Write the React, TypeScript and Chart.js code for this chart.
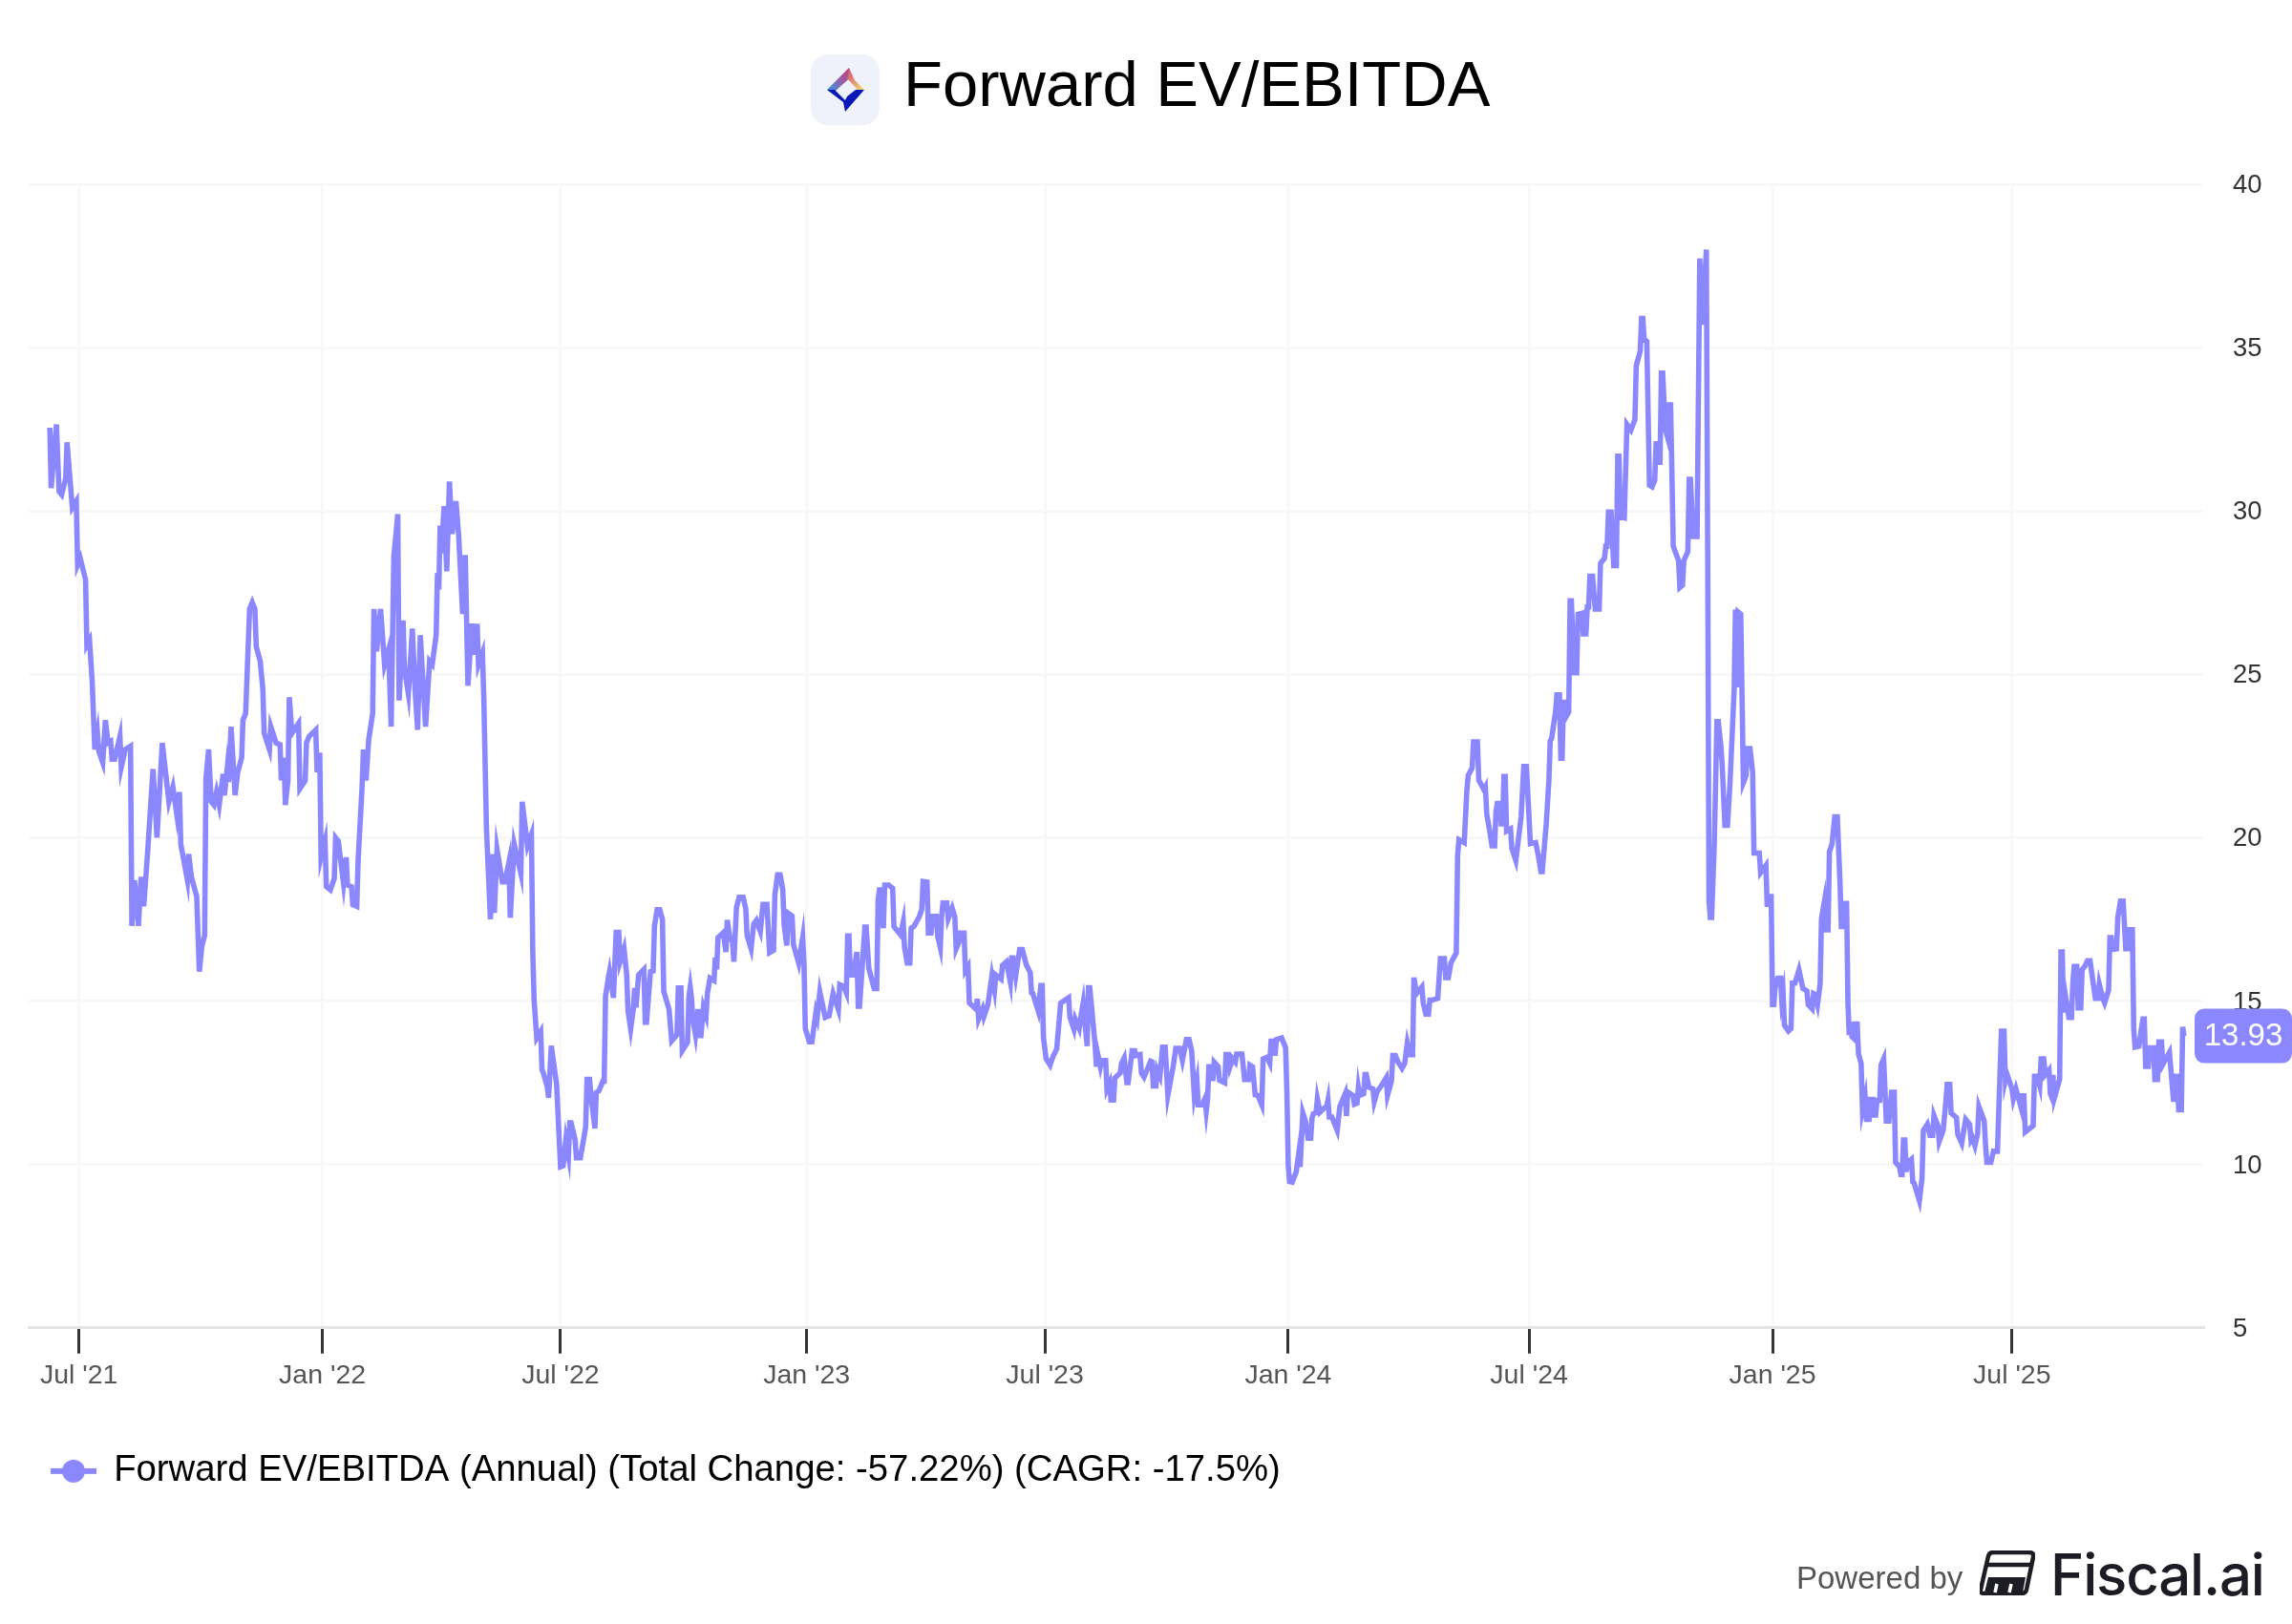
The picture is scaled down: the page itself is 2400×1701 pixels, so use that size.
import React, { useEffect, useRef } from "react";
import { Chart, registerables } from "chart.js";

Chart.register(...registerables);

const titleText = "Forward EV/EBITDA";
const seriesLabel = "Forward EV/EBITDA (Annual) (Total Change: -57.22%) (CAGR: -17.5%)";
const lastValueLabel = "13.93";
const yTicks = [5, 10, 15, 20, 25, 30, 35, 40];
// x positions are days after 1 Jul 2021
const tickDays = [0, 184, 364, 550, 730, 914, 1096, 1280, 1461];
const tickLabels = ["Jul '21", "Jan '22", "Jul '22", "Jan '23", "Jul '23", "Jan '24", "Jul '24", "Jan '25", "Jul '25"];

const obs2021: number[][] = [
  [-22,32.55],[-21,30.7],[-17,32.65],[-15,30.6],[-13,30.5],[-10,31.0],[-9,32.1],[-5,30.1],[-2,30.3],[-1,28.35],
  [1,28.55],[5,27.9],[6,25.9],[8,26.05],[10,24.8],[12,22.7],[14,23.2],[15,22.65],[18,22.3],[20,23.6],
  [22,22.9],[24,22.95],[25,22.4],[27,22.4],[31,23.1],[32,22.15],[35,22.7],[39,22.8],[40,17.3],[42,18.7],
  [45,17.3],[47,18.8],[49,17.9],[52,19.6],[56,22.1],[59,20],[63,22.9],[68,21.1],[71,21.55],[74,20.7],
  [76,21.4],[77,19.8],[82,18.7],[83,19.5],[85,18.8],[89,18.2],[91,15.9],[93,16.7],[95,17.0],[96,21.8],
  [98,22.7],[100,21.1],[102,21],[104,21.4],[106,21],[109,21.95],[110,21.3],[112,22.1],[113,21.7],[115,23.4],
  [118,21.3],[120,22],[123,22.45],[124,23.6],[126,23.8],[129,27],[131,27.2],[133,27],[134,25.85],[137,25.4],
  [139,24.55],[140,23.2],[144,22.7],[145,23.4],[149,22.9],[152,22.85],[153,21.75],[155,22.45],[156,21],[158,21.75],
  [159,24.3],[161,23.2],[166,23.5],[167,21.5],[171,21.75],[172,22.9],[174,23.1],[179,23.3],[180,22],[182,22.6],
];
const obs2022a: number[][] = [
  [183,19.4],[186,19.9],[187,18.5],[190,18.4],[193,18.75],[194,20],[196,19.9],[200,18.6],[202,19.4],[203,18.55],
  [206,18.5],[207,17.95],[210,17.9],[211,19.3],[214,21.55],[215,22.7],[217,21.75],[219,23],[222,23.8],[223,27],
  [225,25.7],[228,27],[231,25.3],[234,25.75],[236,23.4],[238,28.6],[241,29.9],[242,24.2],[245,26.65],[246,25.2],
  [249,24.4],[252,26.4],[254,24.55],[256,23.3],[258,26.2],[262,23.4],[265,25.4],[267,25.3],[270,26.2],[271,28.1],
  [272,27.6],[273,29.55],[274,28.7],[276,30.15],[278,28.15],[280,30.9],[282,29.3],[285,30.3],[287,29.25],[290,26.85],
  [292,28.65],[294,24.65],[297,26.55],[299,25.6],[301,26.55],[302,25.3],[305,25.65],[306,24.3],[308,20.3],[311,17.5],
  [313,19.5],[314,17.7],[316,19.65],[320,18.65],[322,18.65],[325,19.25],[326,17.55],[329,19.8],[334,18.9],[335,21.1],
  [339,19.75],[342,20.1],[343,16.5],[344,15.05],[346,13.87],[349,14.07],[350,12.9],[351,12.8],[354,12.36],[355,12.04],
  [357,13.63],[361,12.46],[364,9.93],[366,9.96],[368,10.75],[370,10.27],[371,11.27],[372,11.27],[375,10.75],[376,10.2],
];
const obs2022b: number[][] = [
  [379,10.2],[382,10.9],[383,11.15],[384,12.6],[386,12.6],[387,12.1],[390,11.1],[391,12.2],[393,12.25],[396,12.55],
  [397,12.55],[398,15.14],[400,15.68],[401,15.9],[404,15.1],[405,16.1],[406,17.1],[408,17.1],[409,16.2],[412,16.6],
  [414,15.8],[415,14.7],[417,14.15],[419,14.75],[420,15.4],[421,14.8],[423,15.8],[427,15.97],[428,14.35],[429,14.35],
  [431,15.4],[432,15.9],[434,15.92],[435,17.3],[437,17.8],[439,17.8],[441,17.5],[442,15.3],[446,14.75],[448,13.78],
  [452,13.97],[453,15.4],[455,15.4],[456,13.48],[460,13.73],[461,15.14],[462,15.43],[463,15.1],[464,14.45],[466,13.97],
  [468,14.75],[470,13.87],[472,14.8],[474,14.55],[475,15.24],[477,15.7],[480,15.63],[481,16.33],[482,15.97],[483,16.94],
  [487,17.09],[489,16.5],[490,17.48],[492,16.94],[494,16.8],[495,16.2],[497,17.87],[499,18.18],[502,18.18],[504,17.82],
  [505,17],[508,16.6],[510,17.36],[512,17.47],[515,17.13],[517,17.96],[520,17.96],[522,16.48],[525,16.55],[526,18.25],
  [528,18.86],[530,18.86],[532,18.4],[533,17.33],[535,16.7],[536,17.69],[539,17.6],[540,16.74],[544,16.16],[547,16.94],
  [548,16.16],
];
const obs2023: number[][] = [
  [549,14.16],[552,13.75],[554,13.75],[557,14.65],[558,14.5],[560,15.28],[562,14.89],[564,14.5],[567,14.55],[570,15.23],
  [574,14.74],[575,15.5],[578,15.45],[580,15.25],[581,16.99],[582,16.99],[583,15.8],[585,15.8],[588,16.5],[589,14.84],
  [590,14.84],[594,17.26],[595,17.26],[597,16],[601,15.38],[603,15.38],[604,18.1],[605,18.4],[606,18.4],[608,17.23],
  [609,18.55],[612,18.55],[615,18.45],[616,17.28],[621,17.03],[623,17.42],[624,16.64],[626,16.16],[628,16.16],[629,17.23],
  [631,17.28],[635,17.57],[637,17.8],[638,18.66],[641,18.64],[642,17.08],[644,17.08],[645,17.59],[648,17.59],[649,16.99],
  [651,16.64],[652,17.57],[653,18],[656,18],[657,17.52],[660,17.84],[662,17.57],[663,16.6],[665,16.8],[666,17.08],
  [669,17.08],[670,15.93],[672,16.06],[673,14.94],[678,14.75],[679,15.07],[680,14.45],[683,14.75],[684,14.53],[687,14.89],
  [690,15.77],[692,15.33],[693,15.8],[697,15.67],[698,16.09],[701,16.2],[704,15.57],[705,16.32],[706,16.32],[708,15.77],
  [711,16.58],[713,16.58],[716,16.11],[719,15.87],[720,15.25],[721,15.23],[725,14.7],[727,15.47],[728,15.47],[729,13.87],
  [731,13.23],[734,13.04],[736,13.28],[739,13.53],[742,14.94],[748,15.1],[749,14.5],[752,14.14],[753,14.45],[756,14.16],
  [757,14.45],[759,14.94],[762,13.62],[763,15.41],[764,15.41],[768,13.67],[769,12.99],[770,13.38],[772,12.99],[773,13.18],
  [776,13.18],[777,12.31],[779,12.5],[780,11.97],[782,11.97],[783,12.65],[787,12.8],[788,13.09],[790,13.26],[792,12.5],
  [793,12.5],[796,13.48],[798,13.48],[799,13.33],[802,13.36],[803,12.8],[805,12.67],[810,13.16],[811,13.14],[812,12.4],
  [814,12.4],[815,12.89],[817,12.7],[819,13.59],[821,13.59],[823,12.11],[827,12.99],[829,13.55],[832,13.55],[834,13.18],
  [837,13.82],[839,13.82],[841,13.48],[842,12.8],[843,12.11],[845,12.55],[846,11.82],[849,11.82],[851,12.01],[852,11.62],
  [853,11.97],[854,12.99],[856,12.99],[857,12.55],[858,13.13],[861,12.99],[862,12.58],[866,12.5],[867,13.36],[869,13.36],
  [870,12.99],[872,13.23],[874,13.13],[875,13.38],[879,13.38],[881,12.6],[884,12.6],[885,13.04],[887,12.99],[889,12.13],
  [891,12.11],[894,11.82],[895,13.23],[898,13.28],[900,13.1],[901,13.77],[903,13.77],[904,13.33],[905,13.82],[909,13.87],
  [912,13.57],[913,12.2],
];
const obs2024a: number[][] = [
  [914,9.97],[915,9.48],[917,9.46],[920,9.77],[922,10.36],[923,9.92],[925,11.58],[927,11.33],[929,10.8],[931,10.8],
  [932,11.43],[933,11.55],[935,11.58],[936,12.01],[938,11.6],[941,11.72],[943,11.77],[944,11.97],[945,11.45],[947,11.45],
  [951,11.04],[953,11.77],[957,12.16],[958,11.48],[959,12.21],[963,12.11],[964,11.84],[966,11.87],[967,12.36],[968,12.11],
  [971,12.16],[972,12.75],[973,12.75],[975,12.36],[978,12.31],[979,11.92],[981,12.21],[985,12.45],[988,12.65],[989,12.11],
  [992,12.55],[993,13.33],[995,13.33],[997,13.13],[1000,12.94],[1002,13.09],[1004,13.72],[1006,13.36],[1008,13.36],[1009,15.72],
  [1011,15.23],[1015,15.43],[1016,14.94],[1018,14.6],[1020,14.6],[1021,15.03],[1023,15.03],[1027,15.08],[1029,16.3],[1032,16.3],
  [1033,15.72],[1035,15.72],[1037,16.17],[1041,16.47],[1042,19.45],[1043,19.94],[1047,19.85],[1049,21.46],[1050,21.9],[1053,22.14],
  [1054,22.93],[1057,22.93],[1058,21.76],[1059,21.69],[1062,21.46],[1063,21.54],[1064,20.72],[1066,20.27],[1068,19.75],[1070,19.75],
  [1071,20.8],[1072,21.05],[1074,21.05],[1075,20.42],[1076,20.42],[1077,21.87],[1078,21.87],[1079,20.2],[1082,20.27],[1083,19.67],
  [1086,19.3],[1090,20.64],[1092,22.18],[1094,22.18],[1097,19.82],[1101,19.85],[1103,19.45],[1105,18.96],[1106,18.96],[1109,20.42],
  [1111,21.76],[1112,22.96],[1113,23.03],[1116,23.85],[1117,24.37],[1119,24.37],[1120,22.43],[1121,22.43],[1122,24.22],[1123,23.63],
  [1126,23.85],[1127,27.25],[1128,27.25],[1130,25.05],[1132,25.05],[1133,26.84],[1136,26.87],[1137,26.24],[1139,26.24],[1140,27.06],
];
const obs2024b: number[][] = [
  [1141,27.06],[1142,28],[1144,28],[1146,27],[1149,27],[1150,28.4],[1153,28.55],[1154,28.92],[1155,28.92],[1156,29.97],
  [1158,29.97],[1160,28.33],[1162,28.33],[1163,31.68],[1164,31.68],[1165,29.82],[1168,29.79],[1170,32.65],[1173,32.48],[1176,32.8],
  [1177,34.44],[1180,34.89],[1181,35.89],[1182,35.89],[1183,35.26],[1185,35.19],[1187,30.79],[1189,30.74],[1191,30.94],[1192,32.06],
  [1193,32.06],[1194,31.49],[1195,31.49],[1196,34.22],[1197,34.22],[1199,32.5],[1201,32.21],[1202,33.25],[1203,33.25],[1205,28.92],
  [1209,28.48],[1210,27.66],[1212,27.73],[1213,28.48],[1216,28.75],[1217,30.97],[1218,30.97],[1220,29.22],[1223,29.22],[1225,37.73],
  [1227,35.7],[1230,38],[1231,28.8],[1232,18.03],[1233,17.56],[1234,17.56],[1236,19.82],[1238,23.55],[1239,23.55],[1241,22.8],
  [1242,22.2],[1244,20.38],[1246,20.38],[1248,21.76],[1251,24.52],[1252,26.98],[1253,24.6],[1254,26.91],[1256,26.84],[1258,21.69],
  [1260,21.9],[1261,22.73],[1263,22.73],[1265,22],[1266,19.53],[1270,19.53],[1271,18.93],[1275,19.15],[1276,17.88],[1277,18.2],
  [1279,18.2],
];
const obs2025: number[][] = [
  [1280,14.89],[1281,14.89],[1282,15.42],[1284,15.7],[1286,15.7],[1287,15.03],[1288,15.25],[1289,14.26],[1292,14.08],[1294,14.16],
  [1295,15.55],[1297,15.55],[1300,15.95],[1303,15.38],[1306,15.31],[1307,14.89],[1310,14.76],[1311,15.23],[1312,15.21],[1314,14.89],
  [1316,15.52],[1317,17.52],[1319,18],[1320,17.18],[1322,17.18],[1323,19.57],[1325,19.81],[1327,20.64],[1329,20.64],[1331,18.64],
  [1332,17.28],[1334,17.28],[1335,17.99],[1336,17.99],[1337,14.94],[1338,13.96],[1339,14.35],[1340,13.91],[1341,13.87],[1342,14.3],
  [1344,14.3],[1345,13.38],[1347,13.09],[1348,11.67],[1350,12.06],[1351,11.38],[1353,11.38],[1354,11.99],[1356,11.99],[1357,11.51],
  [1358,11.51],[1359,11.96],[1361,11.96],[1362,13.04],[1364,13.23],[1366,11.33],[1368,11.33],[1370,12.21],[1372,12.21],[1373,10.06],
  [1376,9.92],[1377,9.69],[1378,9.69],[1379,10.75],[1380,10.75],[1381,9.77],[1382,10.06],[1385,10.16],[1386,9.46],[1387,9.43],
  [1391,8.89],[1393,9.58],[1394,11.04],[1397,11.23],[1399,10.89],[1401,10.89],[1402,11.5],[1405,11.18],[1406,10.7],[1409,11.04],
  [1411,11.92],[1412,12.45],[1414,12.45],[1415,11.57],[1419,11.43],[1420,10.92],[1423,10.65],[1426,11.38],[1429,11.23],[1430,10.75],
  [1431,10.82],[1433,10.57],[1435,10.94],[1436,11.77],[1440,11.33],[1441,10.6],[1442,10.06],[1445,10.06],[1447,10.4],[1450,10.4],
  [1453,14.08],[1455,14.08],[1456,12.6],[1457,12.79],[1459,12.55],[1461,12.31],[1462,12.01],[1464,12.31],[1468,11.72],[1469,12.1],
  [1470,12.1],[1471,10.99],[1477,11.18],[1478,12.7],[1480,12.7],[1482,12.4],[1483,13.23],[1485,13.23],[1486,12.74],[1489,12.89],
  [1490,12.16],[1491,12.06],[1492,12.74],[1493,12.03],[1497,12.6],[1498,16.5],[1499,16.5],[1500,14.65],[1501,15.28],[1504,14.5],
  [1506,14.5],[1507,15.57],[1508,16.06],[1510,16.06],[1511,14.79],[1513,14.79],[1514,15.96],[1516,16.06],[1518,16.23],[1520,16.23],
  [1524,15.08],[1526,15.08],[1527,15.52],[1530,15.04],[1531,14.94],[1534,15.33],[1535,16.94],[1536,16.94],[1537,16.58],[1540,16.6],
  [1541,17.57],[1543,18.06],[1545,18.06],[1547,16.6],[1549,16.6],[1550,17.18],[1552,17.18],[1553,14.16],[1554,13.59],[1557,13.62],
  [1559,14.21],[1560,14.45],[1561,14.45],[1562,13],[1564,13],[1565,13.57],[1568,13.57],[1569,12.6],[1571,12.6],[1572,13.75],
  [1574,13.75],[1575,13.06],[1580,13.43],[1583,11.99],[1584,11.99],[1585,12.7],[1586,12.7],[1587,11.67],[1589,11.67],[1590,14.21],
  [1591,13.93],
];

const observations = [...obs2021, ...obs2022a, ...obs2022b, ...obs2023, ...obs2024a, ...obs2024b, ...obs2025];
const days = observations.map((o) => o[0]);
const values = observations.map((o) => o[1]);

const LINE = "#8b88ff";
const SANS = '"Liberation Sans", Arial, sans-serif';

const lastValueBadge = {
  id: "lastValueBadge",
  afterDraw(chart: any) {
    const { ctx, scales } = chart;
    const cy = scales.y.getPixelForValue(values[values.length - 1]);
    ctx.save();
    ctx.fillStyle = LINE;
    ctx.beginPath();
    ctx.roundRect(2298, cy - 28.5, 102, 57, 10);
    ctx.fill();
    ctx.fillStyle = "#ffffff";
    ctx.font = `33px ${SANS}`;
    ctx.textAlign = "center";
    ctx.textBaseline = "middle";
    ctx.fillText(lastValueLabel, 2349, cy + 1);
    ctx.restore();
  },
};

function legendMarker() {
  const c = document.createElement("canvas");
  c.width = 48;
  c.height = 26;
  const g = c.getContext("2d")!;
  g.fillStyle = LINE;
  g.fillRect(0, 10, 48, 6);
  g.beginPath();
  g.arc(24, 13, 12, 0, Math.PI * 2);
  g.fill();
  return c;
}

export default function App() {
  const ref = useRef<HTMLCanvasElement>(null);
  useEffect(() => {
    const chart = new Chart(ref.current!, {
      type: "line",
      data: {
        datasets: [
          {
            label: seriesLabel,
            data: days.map((d, i) => ({ x: d, y: values[i] })),
            borderColor: LINE,
            backgroundColor: LINE,
            borderWidth: 5.6,
            borderJoinStyle: "miter",
            pointRadius: 0,
            tension: 0,
            fill: false,
          },
        ],
      },
      plugins: [lastValueBadge],
      options: {
        responsive: false,
        devicePixelRatio: 1,
        animation: false,
        events: [],
        layout: { padding: { left: 30, right: 0, top: 193, bottom: 131 } },
        plugins: {
          title: { display: false },
          tooltip: { enabled: false },
          legend: {
            display: true,
            position: "bottom",
            align: "start",
            labels: {
              usePointStyle: true,
              pointStyle: legendMarker(),
              pointStyleWidth: 46,
              padding: 24,
              color: "#000000",
              font: { family: SANS, size: 38.3 },
            },
          },
        },
        scales: {
          x: {
            type: "linear",
            min: -38,
            max: 1605.5,
            afterBuildTicks(scale: any) {
              scale.ticks = tickDays.map((value) => ({ value }));
            },
            afterFit(scale: any) {
              scale.height = 107;
            },
            grid: {
              color: "#f8f8f9",
              lineWidth: 3,
              tickColor: "#333333",
              tickWidth: 3,
              tickLength: 27,
            },
            border: { color: "#e4e4e4", width: 3 },
            ticks: {
              autoSkip: false,
              maxRotation: 0,
              padding: 6.5,
              color: "#555555",
              font: { family: SANS, size: 28.5 },
              callback: (_v: any, i: number) => tickLabels[i],
            },
          },
          y: {
            position: "right",
            min: 5,
            max: 40,
            afterBuildTicks(scale: any) {
              scale.ticks = yTicks.map((value) => ({ value }));
            },
            afterFit(scale: any) {
              scale.width = 93;
            },
            grid: { color: "#f8f8f9", lineWidth: 3, drawTicks: false },
            border: { display: false },
            ticks: {
              crossAlign: "near",
              padding: 31,
              labelOffset: 1.5,
              color: "#333333",
              font: { family: SANS, size: 27.5 },
              callback: (v: any) => String(v),
            },
          },
        },
      } as any,
    });
    return () => chart.destroy();
  }, []);

  return (
    <div style={{ position: "absolute", left: 0, top: 0, width: 2400, height: 1701, overflow: "hidden", background: "#fff" }}>
      <canvas ref={ref} width={2400} height={1701} style={{ position: "absolute", left: 0, top: 0, width: 2400, height: 1701 }} />
      <svg style={{ position: "absolute", left: 849, top: 57 }} width={72} height={74} viewBox="0 0 72 74">
        <defs>
          <linearGradient id="lg1" x1="0" y1="1" x2="1" y2="0">
            <stop offset="0" stopColor="#2f9be0" />
            <stop offset="0.5" stopColor="#8f62b0" />
            <stop offset="1" stopColor="#d03a70" />
          </linearGradient>
          <linearGradient id="lg2" x1="0" y1="0" x2="1" y2="1">
            <stop offset="0" stopColor="#c8477a" />
            <stop offset="1" stopColor="#f8e36a" />
          </linearGradient>
        </defs>
        <rect x="0" y="0" width="72" height="74" rx="18" fill="#eff2fa" />
        <path d="M17 37 L40 14 L40.5 25 L25 39 L22 37 Z" fill="url(#lg1)" />
        <path d="M40 14 L46 27 L56 37 L49 37 L38 25 Z" fill="url(#lg2)" />
        <path d="M17 37 L25 37 L36 48 L38 44 L47 37 L56 37 L36 60 L34 50 Z" fill="#0a17b8" />
      </svg>
      <div style={{ position: "absolute", left: 946, top: 48.5, fontFamily: SANS, fontSize: 67, lineHeight: "77px", color: "#000", whiteSpace: "nowrap" }}>{titleText}</div>
      <div style={{ position: "absolute", left: 1881, top: 1634, fontFamily: SANS, fontSize: 33, lineHeight: "38px", color: "#555", whiteSpace: "nowrap" }}>Powered by</div>
      <svg style={{ position: "absolute", left: 2073, top: 1624 }} width={58} height={47} viewBox="0 0 58 47">
        <path d="M14 2 H52 Q57 2 56 7 L49 41 Q48 45 44 45 H5 Q0 45 1 41 L9 6 Q10 2 14 2 Z" fill="none" stroke="#1c1c24" strokeWidth="4.5" />
        <path d="M8 15 H54" stroke="#1c1c24" strokeWidth="4.5" fill="none" />
        <path d="M9 28 H48 L45 44 H5 Z" fill="#1c1c24" />
        <path d="M18 35 L16 44 M33 35 L31 44" stroke="#ffffff" strokeWidth="3.5" fill="none" />
      </svg>
      <div style={{ position: "absolute", left: 2147, top: 1612, fontFamily: 'Inter, "Liberation Sans", sans-serif', fontWeight: 500, fontSize: 60, lineHeight: "74px", letterSpacing: "-1.2px", color: "#1c1c24", whiteSpace: "nowrap" }}>Fiscal.ai</div>
    </div>
  );
}
